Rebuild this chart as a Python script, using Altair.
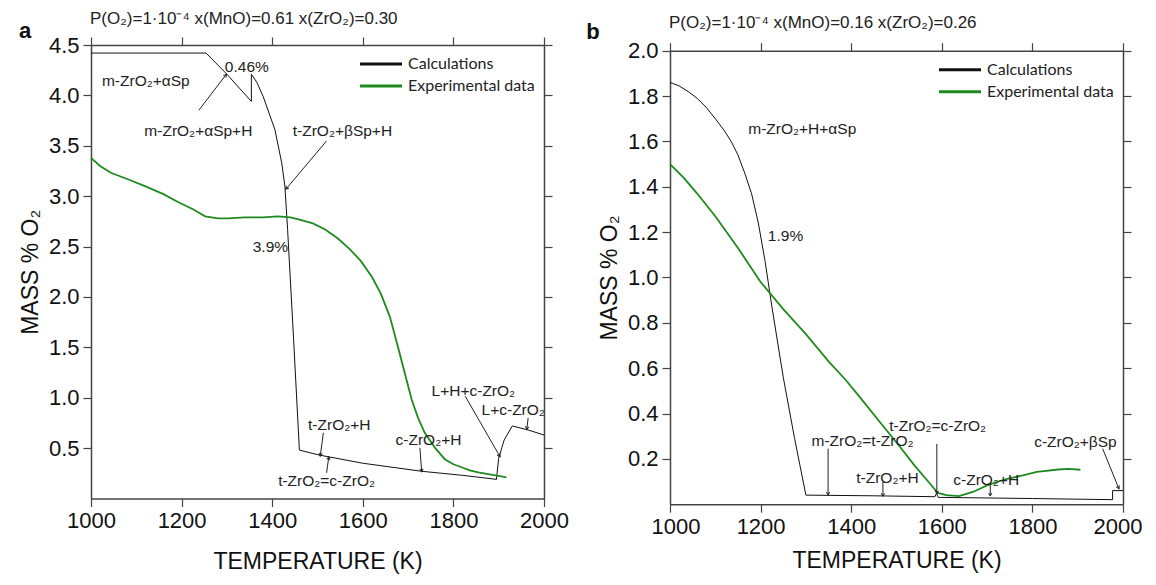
import math
import altair as alt
import pandas as pd

# ---------------- data ----------------
# Panel a : calculations
calc_a_T = [1000, 1254, 1300, 1354, 1354, 1366, 1380, 1406, 1421, 1428, 1434, 1447, 1460,
            1505, 1600, 1730, 1820, 1895, 1900, 1912, 1930, 1965, 2000]
calc_a_v = [4.42, 4.42, 4.21, 3.94, 4.21, 4.13, 3.99, 3.66, 3.33, 3.10, 2.67, 1.60, 0.48,
            0.43, 0.35, 0.27, 0.23, 0.19, 0.40, 0.58, 0.72, 0.68, 0.63]
# Panel a : experimental data
exp_a_T = [1000, 1020, 1045, 1080, 1119, 1160, 1193, 1225, 1252, 1280, 1303, 1340, 1380,
           1413, 1440, 1458, 1490, 1517, 1545, 1570, 1595, 1620, 1640, 1660, 1679, 1694,
           1708, 1722, 1737, 1760, 1781, 1800, 1818, 1836, 1855, 1880, 1900, 1917]
exp_a_v = [3.38, 3.30, 3.23, 3.17, 3.10, 3.02, 2.94, 2.87, 2.80, 2.78, 2.78, 2.79, 2.79,
           2.80, 2.79, 2.77, 2.73, 2.67, 2.58, 2.48, 2.36, 2.20, 2.03, 1.80, 1.48, 1.22,
           0.98, 0.80, 0.65, 0.50, 0.39, 0.34, 0.31, 0.28, 0.26, 0.24, 0.225, 0.21]

# Panel b : calculations
calc_b_T = [1000, 1020, 1040, 1060, 1080, 1100, 1119, 1135, 1150, 1165, 1180, 1195, 1210,
            1225, 1250, 1275, 1300, 1450, 1585, 1588, 1592, 1600, 1800, 1977, 1977, 2000]
calc_b_v = [1.86, 1.845, 1.82, 1.79, 1.75, 1.70, 1.65, 1.60, 1.54, 1.46, 1.37, 1.24, 1.07,
            0.87, 0.56, 0.29, 0.04, 0.037, 0.033, 0.048, 0.03, 0.03, 0.025, 0.02, 0.06, 0.06]
# Panel b : experimental data
exp_b_T = [1000, 1030, 1060, 1100, 1150, 1200, 1250, 1300, 1350, 1387, 1420, 1460, 1505,
           1540, 1570, 1591, 1610, 1638, 1670, 1700, 1740, 1779, 1810, 1857, 1880, 1906]
exp_b_v = [1.50, 1.44, 1.37, 1.27, 1.13, 0.98, 0.86, 0.75, 0.63, 0.55, 0.47, 0.37, 0.26,
           0.17, 0.10, 0.05, 0.04, 0.036, 0.055, 0.083, 0.11, 0.127, 0.143, 0.153, 0.156, 0.152]

series_names = ["Calculations", "Experimental data"]
series_colors = ["#111111", "#1f8a1f"]
series_widths = [1.0, 1.8]

# annotation labels (text, T, value)
notes_a_text = ["m-ZrO₂+αSp", "0.46%", "m-ZrO₂+αSp+H", "t-ZrO₂+βSp+H", "3.9%",
                "t-ZrO₂+H", "t-ZrO₂=c-ZrO₂", "c-ZrO₂+H", "L+H+c-ZrO₂", "L+c-ZrO₂"]
notes_a_T = [1121, 1344, 1237, 1555, 1396, 1548, 1520, 1745, 1844, 1932]
notes_a_v = [4.14, 4.285, 3.65, 3.65, 2.50, 0.73, 0.17, 0.576, 1.07, 0.874]

notes_b_text = ["m-ZrO₂+H+αSp", "1.9%", "t-ZrO₂=c-ZrO₂", "m-ZrO₂=t-ZrO₂",
                "t-ZrO₂+H", "c-ZrO₂+H", "c-ZrO₂+βSp"]
notes_b_T = [1292, 1255, 1591, 1425, 1480, 1698, 1895]
notes_b_v = [1.654, 1.183, 0.346, 0.28, 0.117, 0.108, 0.275]

# arrows (start T, start v, end T, end v) ; head at the end
arrows_a_T1 = [1238, 1520, 1513, 1520, 1726, 1826, 1965]
arrows_a_v1 = [3.853, 3.548, 0.652, 0.255, 0.503, 1.016, 0.80]
arrows_a_T2 = [1299, 1430, 1506, 1525, 1730, 1903, 1962]
arrows_a_v2 = [4.21, 3.068, 0.42, 0.414, 0.265, 0.414, 0.685]

arrows_b_T1 = [1349, 1470, 1589, 1707, 1955]
arrows_b_v1 = [0.245, 0.098, 0.266, 0.09, 0.245]
arrows_b_T2 = [1349, 1470, 1589, 1707, 1991]
arrows_b_v2 = [0.04, 0.035, 0.046, 0.036, 0.068]

x_ticks = [1000, 1200, 1400, 1600, 1800, 2000]
y_ticks_a = [0.5, 1.0, 1.5, 2.0, 2.5, 3.0, 3.5, 4.0, 4.5]
y_ticks_b = [0.2, 0.4, 0.6, 0.8, 1.0, 1.2, 1.4, 1.6, 1.8, 2.0]

W = 453
H = 453.5
FONT = "Liberation Sans"
AX = "#444444"
ARROW_PATH = "M-0.55,-1L0,0L0.55,-1"


def panel(letter, letter_xy, title, title_y, cT, cv, eT, ev, nText, nT, nv,
          a1T, a1v, a2T, a2v, ymax, yticks, shift, xtitle_pad, flush):
    xs = alt.Scale(domain=[1000, 2000], nice=False, zero=False)
    ys = alt.Scale(domain=[0, ymax], nice=False, zero=False, range=[H + shift, shift])

    flush_opts = {"labelFlush": True, "labelFlushOffset": 19} if flush else {"labelFlush": False}
    bottom_axis = alt.Axis(orient="bottom", values=x_ticks, format="d", title="TEMPERATURE (K)",
                           grid=False, tickSize=8, tickColor=AX, domainColor=AX, domainWidth=1.5,
                           tickWidth=1.2, labelFont=FONT, labelFontSize=22, labelColor="#111",
                           labelPadding=4, labelOverlap=False,
                           titleFont=FONT, titleFontSize=23,
                           titleFontWeight="normal", titleColor="#111", titlePadding=xtitle_pad,
                           **flush_opts)
    left_axis = alt.Axis(orient="left", values=yticks, format=".1f", title="MASS % O₂",
                         grid=False, tickSize=8, tickColor=AX, domainColor=AX, domainWidth=1.5,
                         tickWidth=1.2, labelFont=FONT, labelFontSize=22, labelColor="#111",
                         labelPadding=4, labelFlush=False, labelOverlap=False,
                         titleFont=FONT, titleFontSize=23,
                         titleFontWeight="normal", titleColor="#111", titlePadding=6)
    top_axis = alt.Axis(orient="top", values=x_ticks, labels=False, title=None, grid=False,
                        tickSize=8, tickColor=AX, domainColor=AX, domainWidth=1.5, tickWidth=1.2,
                        offset=-shift)
    right_axis = alt.Axis(orient="right", values=yticks, labels=False, title=None, grid=False,
                          tickSize=8, tickColor=AX, domainColor=AX, domainWidth=1.5, tickWidth=1.2)

    color_scale = alt.Scale(domain=series_names, range=series_colors)

    calc_df = pd.DataFrame({"T": cT, "v": cv, "series": series_names[0], "i": range(len(cT))})
    exp_df = pd.DataFrame({"T": eT, "v": ev, "series": series_names[1], "i": range(len(eT))})

    calc_line = alt.Chart(calc_df).mark_line(strokeWidth=series_widths[0]).encode(
        x=alt.X("T:Q", scale=xs, axis=bottom_axis),
        y=alt.Y("v:Q", scale=ys, axis=left_axis),
        color=alt.Color("series:N", scale=color_scale, legend=None),
        order="i:Q",
    )
    exp_line = alt.Chart(exp_df).mark_line(strokeWidth=series_widths[1]).encode(
        x=alt.X("T:Q", scale=xs, axis=None),
        y=alt.Y("v:Q", scale=ys, axis=None),
        color=alt.Color("series:N", scale=color_scale, legend=None),
        order="i:Q",
    )

    frame = alt.Chart(pd.DataFrame({"T": [1000], "v": [0]})).mark_point(opacity=0).encode(
        x=alt.X("T:Q", scale=xs, axis=top_axis),
        y=alt.Y("v:Q", scale=ys, axis=right_axis),
    )

    ndf = pd.DataFrame({"T": nT, "v": nv, "label": nText})
    notes = alt.Chart(ndf).mark_text(font=FONT, fontSize=15.5, color="#222",
                                     align="center", baseline="middle").encode(
        x=alt.X("T:Q", scale=xs, axis=None),
        y=alt.Y("v:Q", scale=ys, axis=None),
        text="label:N",
    )

    angs = []
    for t1, v1, t2, v2 in zip(a1T, a1v, a2T, a2v):
        dx = (t2 - t1) / 1000.0 * W
        dy = -(v2 - v1) / ymax * H
        angs.append(math.degrees(math.atan2(-dx, dy)) % 360)
    adf = pd.DataFrame({"T1": a1T, "v1": a1v, "T2": a2T, "v2": a2v, "ang": angs})
    rules = alt.Chart(adf).mark_rule(color="#222", strokeWidth=1).encode(
        x=alt.X("T1:Q", scale=xs, axis=None),
        y=alt.Y("v1:Q", scale=ys, axis=None),
        x2="T2:Q",
        y2="v2:Q",
    )
    heads = alt.Chart(adf).mark_point(shape=ARROW_PATH, filled=False, color="#222",
                                      strokeWidth=1, size=36, opacity=1).encode(
        x=alt.X("T2:Q", scale=xs, axis=None),
        y=alt.Y("v2:Q", scale=ys, axis=None),
        angle=alt.Angle("ang:Q", scale=None),
    )

    # legend (inside the plot, top right)
    legend_layers = []
    for k, name in enumerate(series_names):
        ldf = pd.DataFrame({"series": [name]})
        yk = shift + 19 + 22 * k
        legend_layers.append(
            alt.Chart(ldf).mark_rule(strokeWidth=3).encode(
                x=alt.value(269), x2=alt.value(311), y=alt.value(yk),
                color=alt.Color("series:N", scale=color_scale, legend=None))
        )
        legend_layers.append(
            alt.Chart(ldf).mark_text(font="Lato", fontSize=16, color="#222", align="left",
                                     baseline="middle").encode(
                x=alt.value(317), y=alt.value(yk), text="series:N")
        )

    lab = alt.Chart(pd.DataFrame({"t": [letter]})).mark_text(
        font=FONT, fontSize=22, fontWeight="bold", color="#111", align="center",
        baseline="middle").encode(text="t:N", x=alt.value(letter_xy[0]), y=alt.value(letter_xy[1]))

    ttl = alt.Chart(pd.DataFrame({"t": [title]})).mark_text(
        font=FONT, fontSize=17, color="#222", align="left", baseline="alphabetic").encode(
        text="t:N", x=alt.value(-1), y=alt.value(title_y))

    layer = alt.layer(calc_line, exp_line, frame, rules, heads, notes, *legend_layers,
                      lab, ttl).resolve_axis(
        x="independent", y="independent"
    ).properties(width=W, height=H + shift)
    return layer


pa = panel("a", (-66, -14), "P(O₂)=1·10⁻⁴ x(MnO)=0.61 x(ZrO₂)=0.30", -21,
           calc_a_T, calc_a_v, exp_a_T, exp_a_v,
           notes_a_text, notes_a_T, notes_a_v, arrows_a_T1, arrows_a_v1, arrows_a_T2, arrows_a_v2,
           4.5, y_ticks_a, 0, 19, False)
pb = panel("b", (-77, -13), "P(O₂)=1·10⁻⁴ x(MnO)=0.16 x(ZrO₂)=0.26", -17.5,
           calc_b_T, calc_b_v, exp_b_T, exp_b_v,
           notes_b_text, notes_b_T, notes_b_v, arrows_b_T1, arrows_b_v1, arrows_b_T2, arrows_b_v2,
           2.0, y_ticks_b, 5.7, 12, True)

chart = alt.hconcat(pa, pb, spacing=17).properties(
    padding={"left": 10, "top": 2, "right": 0, "bottom": 0},
    background="white",
).configure_view(stroke=None)

chart.save("out.html", embed_options={"renderer": "svg", "actions": False})
